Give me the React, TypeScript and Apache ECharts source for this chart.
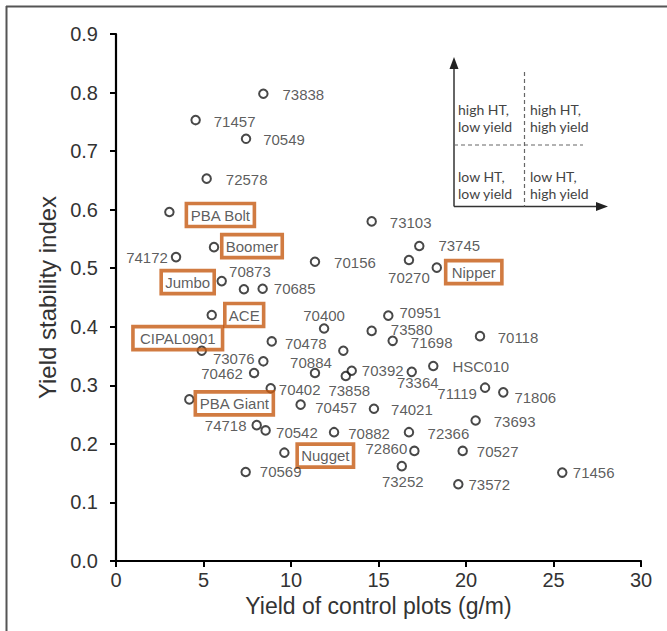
import React, { useEffect, useRef } from "react";
import * as echarts from "echarts";

// Genotype / cultivar names (empty string = unlabelled point)
const names: string[] = [
  "73838", "71457", "70549", "72578", "PBA Bolt", "73103", "Boomer", "73745",
  "74172", "70156", "70270", "Nipper", "Jumbo", "70873", "70685", "70951",
  "ACE", "70400", "73580", "71698", "70118", "70478", "CIPAL0901", "",
  "73076", "70462", "70884", "70402", "PBA Giant", "70457", "74718", "70542",
  "Nugget", "70569", "70882", "72366", "72860", "73252", "70527", "73572",
  "71456", "73693", "71119", "71806", "74021", "HSC010", "73364", "70392",
  "73858",
];

// Yield of control plots (g/m)
const xValues: number[] = [
  8.42, 4.55, 7.43, 5.18, 3.05, 14.61, 5.6, 17.33,
  3.43, 11.37, 16.74, 18.33, 6.04, 7.31, 8.38, 15.56,
  5.47, 11.89, 14.61, 15.81, 20.8, 8.9, 4.9, 12.99,
  8.42, 7.89, 11.37, 8.84, 4.19, 10.55, 8.04, 8.55,
  9.62, 7.41, 12.46, 16.74, 17.05, 16.33, 19.81, 19.56,
  25.5, 20.55, 21.09, 22.13, 14.74, 18.13, 16.9, 13.47,
  13.13,
];

// Yield stability index
const yValues: number[] = [
  0.798, 0.753, 0.721, 0.653, 0.596, 0.58, 0.536, 0.538,
  0.519, 0.511, 0.514, 0.501, 0.478, 0.464, 0.465, 0.419,
  0.42, 0.397, 0.393, 0.376, 0.384, 0.375, 0.359, 0.359,
  0.341, 0.321, 0.321, 0.295, 0.276, 0.267, 0.232, 0.223,
  0.185, 0.152, 0.22, 0.22, 0.188, 0.162, 0.188, 0.131,
  0.151, 0.24, 0.296, 0.288, 0.26, 0.333, 0.323, 0.325,
  0.316,
];

// Released cultivars shown in boxes
const cultivars: string[] = [
  "PBA Bolt", "Boomer", "Jumbo", "ACE", "CIPAL0901", "PBA Giant", "Nugget", "Nipper",
];

// Inset legend texts
const quadrantTexts: string[][] = [
  ["high HT,", "low yield"],
  ["high HT,", "high yield"],
  ["low HT,", "low yield"],
  ["low HT,", "high yield"],
];

const xTitle = "Yield of control plots (g/m)";
const yTitle = "Yield stability index";

// label placement (centre offset from point, px) – layout only
const labelOffsets: Record<string, [number, number]> = {
  "73838": [40, 1], "71457": [39, 1], "70549": [38, 1], "72578": [40, 1],
  "PBA Bolt": [51, 3], "73103": [39, 1], "Boomer": [38, -1], "73745": [40, 0],
  "74172": [-29, 0], "70156": [40, 1], "70270": [0, 17], "Nipper": [37, 4.5],
  "Jumbo": [-34, 1], "70873": [6, -17.5], "70685": [32, 0], "70951": [32, -3.6],
  "ACE": [32.5, 0], "70400": [0, -13], "73580": [40, -1], "71698": [39, 2],
  "70118": [38, 1], "70478": [34, 2], "CIPAL0901": [-24, -12.7],
  "73076": [-29.6, -2.7], "70462": [-32, 0.6], "70884": [-4, -10.4],
  "70402": [29, 1], "PBA Giant": [45, 4], "70457": [35.5, 2.4], "74718": [-31, 0],
  "70542": [31.3, 1.7], "Nugget": [41, 3], "70569": [35, 0], "70882": [35, 1],
  "72366": [39.5, 1], "72860": [-28, -2.4], "73252": [1, 15.3], "70527": [35, 1],
  "73572": [31, 0], "71456": [31.4, 0], "73693": [39, 0.7], "71119": [-28, 6],
  "71806": [32, 4.7], "74021": [38, 1], "HSC010": [47.5, 0], "73364": [6, 10.6],
  "70392": [31, 0], "73858": [3.5, 15],
};

const boxPadding: Record<string, number[]> = {
  "CIPAL0901": [4, 7],
  "Nipper": [4, 6],
};

const FONT = "'Liberation Sans', Arial, sans-serif";
const TEXT = "#333";

export default function App() {
  const ref = useRef<HTMLDivElement>(null);

  useEffect(() => {
    if (!ref.current) return;
    const chart = echarts.init(ref.current, undefined, { renderer: "svg" });

    const data = names.map((n, i) => {
      const boxed = cultivars.includes(n);
      return {
        name: n,
        value: [xValues[i], yValues[i]],
        label: {
          show: n !== "",
          position: "inside",
          offset: labelOffsets[n] || [0, 0],
          formatter: n,
          color: TEXT,
          fontSize: 15,
          fontFamily: FONT,
          textBorderWidth: 0,
          textBorderColor: "transparent",
          ...(boxed
            ? {
                borderColor: "#C55A11",
                borderWidth: 1.8,
                padding: boxPadding[n] || [4, 4],
                backgroundColor: "transparent",
              }
            : {}),
        },
      };
    });

    const ix = 454;
    const iy = 206.5;
    const graphics: any[] = [
      // outer frame (top & left)
      { type: "line", shape: { x1: 6, y1: 6.5, x2: 667, y2: 6.5 }, style: { stroke: "#555", lineWidth: 2 } },
      { type: "line", shape: { x1: 6.5, y1: 6, x2: 6.5, y2: 631 }, style: { stroke: "#555", lineWidth: 2 } },
      // inset axes
      { type: "line", shape: { x1: ix, y1: iy, x2: ix, y2: 66 }, style: { stroke: "#333", lineWidth: 1.5 } },
      { type: "polygon", shape: { points: [[ix, 57], [ix - 4.5, 69], [ix + 4.5, 69]] }, style: { fill: "#222" } },
      { type: "line", shape: { x1: ix, y1: iy, x2: 598, y2: iy }, style: { stroke: "#333", lineWidth: 1.5 } },
      { type: "polygon", shape: { points: [[608, iy], [596, iy - 4.5], [596, iy + 4.5]] }, style: { fill: "#222" } },
      { type: "line", shape: { x1: 524.5, y1: 72, x2: 524.5, y2: iy }, style: { stroke: "#666", lineWidth: 1.2, lineDash: [4, 3] } },
      { type: "line", shape: { x1: ix, y1: 145, x2: 583, y2: 145 }, style: { stroke: "#666", lineWidth: 1.2, lineDash: [4, 3] } },
    ];
    const qPos = [
      [458, 109],
      [530, 109],
      [458, 176],
      [530, 176],
    ];
    quadrantTexts.forEach((lines, k) => {
      lines.forEach((t, j) => {
        graphics.push({
          type: "text",
          x: qPos[k][0],
          y: qPos[k][1] + j * 17,
          style: {
            text: t,
            fill: "#444",
            font: "14px Lato, 'Open Sans', sans-serif",
            verticalAlign: "middle",
          },
        });
      });
    });

    chart.setOption({
      animation: false,
      backgroundColor: "#fff",
      grid: { left: 116, right: 26, top: 34, bottom: 70, containLabel: false },
      xAxis: {
        type: "value",
        min: 0,
        max: 30,
        interval: 5,
        name: xTitle,
        nameLocation: "middle",
        nameGap: 32,
        nameTextStyle: { fontSize: 23, color: TEXT, fontFamily: FONT },
        axisLine: { show: true, lineStyle: { color: "#000", width: 2.2 } },
        axisTick: { show: true, length: 6, lineStyle: { color: "#000", width: 2 } },
        axisLabel: { fontSize: 20, color: TEXT, margin: 9, fontFamily: FONT },
        splitLine: { show: false },
      },
      yAxis: {
        type: "value",
        min: 0,
        max: 0.9,
        interval: 0.1,
        name: yTitle,
        nameLocation: "middle",
        nameGap: 52,
        nameTextStyle: { fontSize: 24, color: TEXT, fontFamily: FONT },
        axisLine: { show: true, lineStyle: { color: "#000", width: 2.2 } },
        axisTick: { show: true, length: 6, lineStyle: { color: "#000", width: 2 } },
        axisLabel: {
          fontSize: 20,
          color: TEXT,
          margin: 18,
          fontFamily: FONT,
          formatter: (v: number) => v.toFixed(1),
        },
        splitLine: { show: false },
      },
      graphic: graphics,
      series: [
        {
          type: "scatter",
          symbol: "circle",
          symbolSize: 8.5,
          itemStyle: { color: "transparent", borderColor: "#1a1a1a", borderWidth: 2 },
          emphasis: { disabled: true },
          data,
        },
      ],
    });

    return () => chart.dispose();
  }, []);

  return (
    <div
      ref={ref}
      style={{ position: "absolute", left: 0, top: 0, width: 667, height: 631 }}
    />
  );
}
